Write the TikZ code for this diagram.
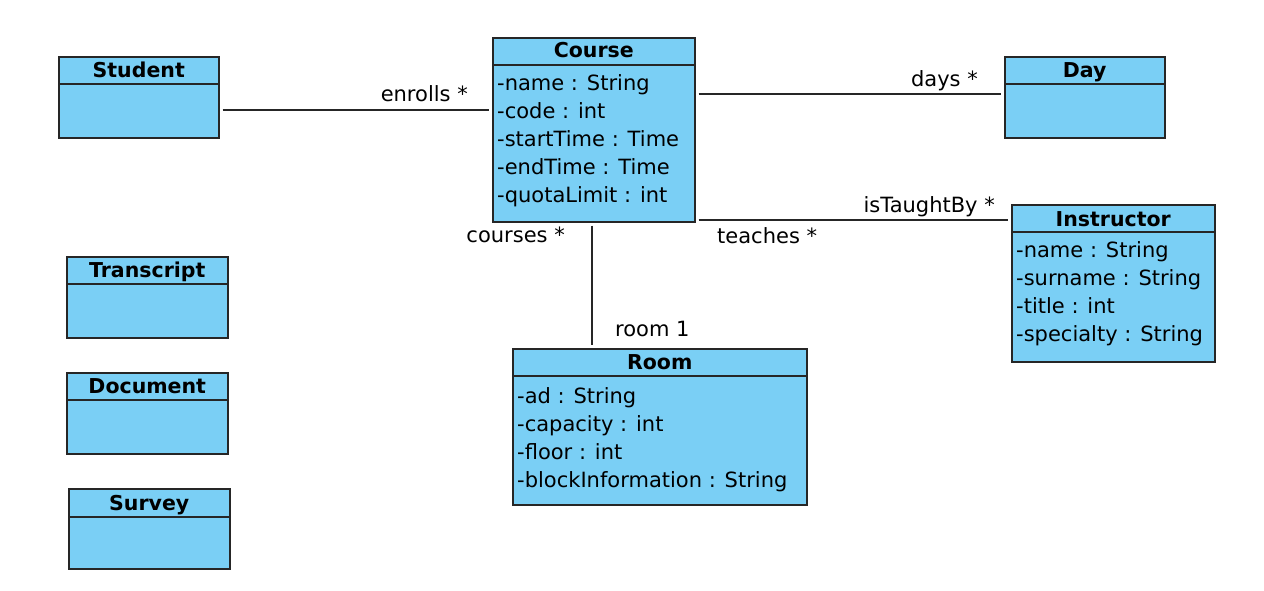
\documentclass[tikz,border=0pt]{standalone}
\usepackage{fontspec}
\setmainfont{DejaVu Sans}
\definecolor{umlblue}{RGB}{122,207,245}
\begin{document}
\begin{tikzpicture}[x=1pt,y=-1pt,
  classbox/.style={draw=black!85, line width=1.5pt, fill=umlblue, inner sep=0pt, anchor=north west},
  sepline/.style={draw=black!85, line width=1.5pt},
  ttl/.style={font=\fontsize{20.5}{24}\selectfont\bfseries, anchor=base, inner sep=0pt},
  attr/.style={font=\fontsize{21}{25}\selectfont, anchor=base west, inner sep=0pt},
  lbl/.style={font=\fontsize{21}{25}\selectfont, inner sep=0pt},
  assoc/.style={draw=black!85, line width=1.3pt, shorten <=3pt, shorten >=3pt}]
\useasboundingbox[fill=white] (0,0) rectangle (1264,590);

% Student
\node[classbox, minimum width=160pt, minimum height=81pt] (student) at (58,56) {};
\draw[sepline] (student.west |- 0,84) -- (student.east |- 0,84);
\node[ttl] (student-t) at (student.north |- 0,77) {Student};

% Course
\node[classbox, minimum width=202pt, minimum height=184pt] (course) at (492,37) {};
\draw[sepline] (course.west |- 0,65) -- (course.east |- 0,65);
\node[ttl] (course-t) at (course.north |- 0,57) {Course};
\node[attr] (course-a1) at (497,90) {-name : String};
\node[attr] (course-a2) at (497,118) {-code : int};
\node[attr] (course-a3) at (497,146) {-startTime : Time};
\node[attr] (course-a4) at (497,174) {-endTime : Time};
\node[attr] (course-a5) at (497,202) {-quotaLimit : int};

% Day
\node[classbox, minimum width=160pt, minimum height=81pt] (day) at (1004,56) {};
\draw[sepline] (day.west |- 0,84) -- (day.east |- 0,84);
\node[ttl] (day-t) at (day.north |- 0,77) {Day};

% Instructor
\node[classbox, minimum width=203pt, minimum height=157pt] (instructor) at (1011,204) {};
\draw[sepline] (instructor.west |- 0,232) -- (instructor.east |- 0,232);
\node[ttl] (instructor-t) at (instructor.north |- 0,226) {Instructor};
\node[attr] (instructor-a1) at (1016,257) {-name : String};
\node[attr] (instructor-a2) at (1016,285) {-surname : String};
\node[attr] (instructor-a3) at (1016,313) {-title : int};
\node[attr] (instructor-a4) at (1016,341) {-specialty : String};

% Transcript
\node[classbox, minimum width=161pt, minimum height=81pt] (transcript) at (66,256) {};
\draw[sepline] (transcript.west |- 0,284) -- (transcript.east |- 0,284);
\node[ttl] (transcript-t) at (transcript.north |- 0,277) {Transcript};

% Document
\node[classbox, minimum width=161pt, minimum height=81pt] (document) at (66,372) {};
\draw[sepline] (document.west |- 0,400) -- (document.east |- 0,400);
\node[ttl] (document-t) at (document.north |- 0,393) {Document};

% Survey
\node[classbox, minimum width=161pt, minimum height=80pt] (survey) at (68,488) {};
\draw[sepline] (survey.west |- 0,517) -- (survey.east |- 0,517);
\node[ttl] (survey-t) at (survey.north |- 0,510) {Survey};

% Room
\node[classbox, minimum width=294pt, minimum height=156pt] (room) at (512,348) {};
\draw[sepline] (room.west |- 0,376) -- (room.east |- 0,376);
\node[ttl] (room-t) at (room.north |- 0,369) {Room};
\node[attr] (room-a1) at (517,403) {-ad : String};
\node[attr] (room-a2) at (517,431) {-capacity : int};
\node[attr] (room-a3) at (517,459) {-floor : int};
\node[attr] (room-a4) at (517,487) {-blockInformation : String};

% Associations
\draw[assoc] (student.east |- 0,110) -- (course.west |- 0,110);
\draw[assoc] (course.east |- 0,94) -- (day.west |- 0,94);
\draw[assoc] (course.east |- 0,220) -- (instructor.west |- 0,220);
\draw[assoc] (course.south -| 592,0) -- (room.north -| 592,0);

% Labels
\node[lbl, anchor=base east] (l-enrolls) at (468,101) {enrolls *};
\node[lbl, anchor=base east] (l-days) at (978,86) {days *};
\node[lbl, anchor=base east] (l-taught) at (995,212) {isTaughtBy *};
\node[lbl, anchor=base west] (l-teaches) at (717,243) {teaches *};
\node[lbl, anchor=base east] (l-courses) at (565,242) {courses *};
\node[lbl, anchor=base west] (l-room) at (615,336) {room 1};
\end{tikzpicture}
\end{document}
